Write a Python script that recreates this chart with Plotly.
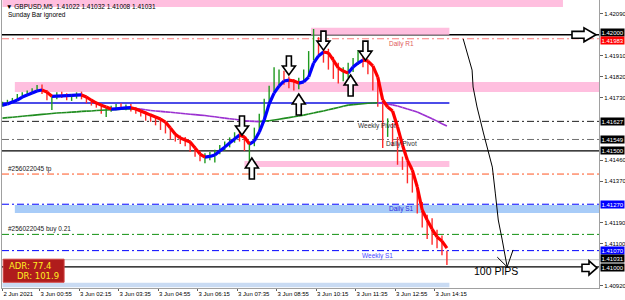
import plotly.graph_objects as go
import pandas as pd

# ---------------- data ----------------
symbol_title = "\u25bc GBPUSD,M5  1.41022 1.41032 1.41008 1.41031"
subtitle = "Sunday Bar ignored"

bar_start = "2021-06-02 23:40"
opens = [1.41700, 1.41706, 1.41716, 1.41722, 1.41738, 1.41745, 1.41752, 1.41764, 1.41772, 1.41750,
         1.41728, 1.41735, 1.41745, 1.41738, 1.41730, 1.41735, 1.41744, 1.41726, 1.41712, 1.41700,
         1.41692, 1.41672, 1.41680, 1.41688, 1.41690, 1.41683, 1.41694, 1.41676, 1.41666, 1.41656,
         1.41646, 1.41638, 1.41628, 1.41605, 1.41585, 1.41562, 1.41550, 1.41545, 1.41530, 1.41505,
         1.41488, 1.41470, 1.41478, 1.41488, 1.41500, 1.41518, 1.41532, 1.41550, 1.41570, 1.41552,
         1.41515, 1.41530, 1.41590, 1.41650, 1.41715, 1.41765, 1.41800, 1.41815, 1.41798, 1.41790,
         1.41785, 1.41805, 1.41840, 1.41905, 1.41940, 1.41925, 1.41900, 1.41870, 1.41840, 1.41830,
         1.41845, 1.41860, 1.41885, 1.41895, 1.41875, 1.41840, 1.41780, 1.41700, 1.41580, 1.41600,
         1.41540, 1.41460, 1.41430, 1.41380, 1.41340, 1.41260, 1.41190, 1.41180, 1.41130, 1.41110,
         1.41060]
highs = [1.41712, 1.41720, 1.41728, 1.41745, 1.41752, 1.41760, 1.41770, 1.41784, 1.41786, 1.41762,
         1.41740, 1.41752, 1.41755, 1.41748, 1.41744, 1.41752, 1.41755, 1.41735, 1.41722, 1.41712,
         1.41704, 1.41690, 1.41694, 1.41702, 1.41705, 1.41700, 1.41702, 1.41688, 1.41680, 1.41670,
         1.41660, 1.41650, 1.41640, 1.41618, 1.41598, 1.41578, 1.41566, 1.41560, 1.41545, 1.41520,
         1.41500, 1.41490, 1.41495, 1.41505, 1.41525, 1.41540, 1.41558, 1.41580, 1.41595, 1.41565,
         1.41540, 1.41600, 1.41660, 1.41725, 1.41780, 1.41860, 1.41850, 1.41845, 1.41820, 1.41810,
         1.41815, 1.41850, 1.41930, 1.42025, 1.41990, 1.41975, 1.41940, 1.41905, 1.41880, 1.41860,
         1.41880, 1.41900, 1.41935, 1.41915, 1.41895, 1.41860, 1.41800, 1.41710, 1.41640, 1.41620,
         1.41560, 1.41475, 1.41450, 1.41400, 1.41350, 1.41280, 1.41225, 1.41210, 1.41160, 1.41135,
         1.41070]
lows = [1.41690, 1.41700, 1.41708, 1.41715, 1.41728, 1.41735, 1.41744, 1.41755, 1.41745, 1.41718,
        1.41676, 1.41722, 1.41728, 1.41718, 1.41715, 1.41725, 1.41722, 1.41705, 1.41695, 1.41686,
        1.41660, 1.41646, 1.41668, 1.41675, 1.41678, 1.41675, 1.41670, 1.41660, 1.41648, 1.41630,
        1.41625, 1.41610, 1.41590, 1.41575, 1.41550, 1.41540, 1.41530, 1.41520, 1.41495, 1.41475,
        1.41455, 1.41447, 1.41460, 1.41450, 1.41485, 1.41500, 1.41515, 1.41535, 1.41540, 1.41500,
        1.41439, 1.41520, 1.41580, 1.41640, 1.41700, 1.41755, 1.41775, 1.41785, 1.41770, 1.41760,
        1.41765, 1.41795, 1.41830, 1.41890, 1.41910, 1.41880, 1.41850, 1.41810, 1.41790, 1.41800,
        1.41815, 1.41840, 1.41870, 1.41860, 1.41830, 1.41760, 1.41690, 1.41512, 1.41560, 1.41520,
        1.41440, 1.41418, 1.41360, 1.41320, 1.41230, 1.41170, 1.41120, 1.41095, 1.41080, 1.41050,
        1.41008]
closes = [1.41706, 1.41716, 1.41722, 1.41738, 1.41745, 1.41752, 1.41764, 1.41772, 1.41750, 1.41728,
          1.41735, 1.41745, 1.41738, 1.41730, 1.41735, 1.41744, 1.41726, 1.41712, 1.41700, 1.41692,
          1.41672, 1.41680, 1.41688, 1.41690, 1.41683, 1.41694, 1.41676, 1.41666, 1.41656, 1.41646,
          1.41638, 1.41628, 1.41605, 1.41585, 1.41562, 1.41550, 1.41545, 1.41530, 1.41505, 1.41488,
          1.41470, 1.41478, 1.41488, 1.41500, 1.41518, 1.41532, 1.41550, 1.41570, 1.41552, 1.41515,
          1.41530, 1.41590, 1.41650, 1.41715, 1.41765, 1.41800, 1.41815, 1.41798, 1.41790, 1.41785,
          1.41805, 1.41840, 1.41905, 1.41940, 1.41925, 1.41900, 1.41870, 1.41840, 1.41830, 1.41845,
          1.41860, 1.41885, 1.41895, 1.41875, 1.41840, 1.41780, 1.41700, 1.41580, 1.41600, 1.41540,
          1.41460, 1.41430, 1.41380, 1.41340, 1.41260, 1.41190, 1.41180, 1.41130, 1.41110, 1.41060,
          1.41031]
fast_ma = [1.41697, 1.41702, 1.41710, 1.41719, 1.41732, 1.41741, 1.41749, 1.41758, 1.41762, 1.41753,
           1.41735, 1.41736, 1.41737, 1.41738, 1.41739, 1.41740, 1.41741, 1.41732, 1.41718, 1.41706,
           1.41697, 1.41689, 1.41680, 1.41681, 1.41683, 1.41685, 1.41686, 1.41680, 1.41672, 1.41663,
           1.41654, 1.41646, 1.41637, 1.41624, 1.41598, 1.41572, 1.41555, 1.41547, 1.41538, 1.41512,
           1.41486, 1.41473, 1.41476, 1.41482, 1.41499, 1.41516, 1.41534, 1.41551, 1.41568, 1.41560,
           1.41529, 1.41542, 1.41581, 1.41633, 1.41702, 1.41749, 1.41779, 1.41801, 1.41805, 1.41801,
           1.41792, 1.41797, 1.41818, 1.41878, 1.41909, 1.41926, 1.41922, 1.41891, 1.41857, 1.41844,
           1.41835, 1.41861, 1.41878, 1.41891, 1.41887, 1.41866, 1.41818, 1.41719, 1.41689, 1.41672,
           1.41603, 1.41525, 1.41460, 1.41417, 1.41344, 1.41245, 1.41202, 1.41163, 1.41129, 1.41111,
           1.41081]
slow_ma = [1.41641, 1.41643, 1.41645, 1.41647, 1.41649, 1.41651, 1.41653, 1.41655, 1.41657, 1.41659,
           1.41661, 1.41663, 1.41664, 1.41665, 1.41667, 1.41668, 1.41670, 1.41671, 1.41672, 1.41674,
           1.41675, 1.41676, 1.41677, 1.41678, 1.41679, 1.41680, 1.41681, 1.41682, 1.41680, 1.41677,
           1.41674, 1.41672, 1.41670, 1.41668, 1.41666, 1.41664, 1.41662, 1.41660, 1.41658, 1.41656,
           1.41654, 1.41652, 1.41649, 1.41647, 1.41644, 1.41641, 1.41638, 1.41636, 1.41633, 1.41630,
           1.41628, 1.41627, 1.41626, 1.41628, 1.41630, 1.41633, 1.41636, 1.41640, 1.41643, 1.41647,
           1.41650, 1.41654, 1.41659, 1.41663, 1.41668, 1.41672, 1.41677, 1.41682, 1.41687, 1.41692,
           1.41697, 1.41699, 1.41701, 1.41703, 1.41705, 1.41706, 1.41707, 1.41705, 1.41702, 1.41698,
           1.41693, 1.41687, 1.41680, 1.41674, 1.41667, 1.41658, 1.41648, 1.41638, 1.41628, 1.41617,
           1.41607]

tick_times = ["2021-06-02 23:40", "2021-06-03 00:55", "2021-06-03 02:15", "2021-06-03 03:35",
              "2021-06-03 04:55", "2021-06-03 06:15", "2021-06-03 07:35", "2021-06-03 08:55",
              "2021-06-03 10:15", "2021-06-03 11:35", "2021-06-03 12:55", "2021-06-03 14:15"]
tick_labels = ["2 Jun 2021", "3 Jun 00:55", "3 Jun 02:15", "3 Jun 03:35", "3 Jun 04:55",
               "3 Jun 06:15", "3 Jun 07:35", "3 Jun 08:55", "3 Jun 10:15", "3 Jun 11:35",
               "3 Jun 12:55", "3 Jun 14:15"]
price_ticks = [1.42090, 1.41910, 1.41820, 1.41730, 1.41460, 1.41370, 1.41190, 1.41100, 1.40920]

# pivot / order levels (dash-dot lines)
level_names = ["Daily R1", "Weekly Pivot", "Daily Pivot", "#256022045 tp",
               "Daily S1", "#256022045 buy 0.21", "Weekly S1"]
level_prices = [1.41983, 1.41627, 1.41549, 1.41400, 1.41270, 1.41140, 1.41070]
round_levels = [1.42000, 1.41500, 1.41000]
trend_level = 1.41706
trend_end = "2021-06-03 14:45"
bid_price = 1.41031

# rectangles (supply / demand zones)
zone_starts = ["2021-06-02 23:40", "2021-06-03 10:05", "2021-06-03 00:05", "2021-06-03 07:50",
               "2021-06-03 00:05"]
zone_ends = ["2021-06-03 18:35", "2021-06-03 14:45", "2021-06-03 20:30", "2021-06-03 14:45",
             "2021-06-03 20:30"]
zone_lows = [1.42120, 1.42000, 1.41754, 1.41430, 1.41232]
zone_highs = [1.42170, 1.42030, 1.41797, 1.41456, 1.41267]
zone_kind = ["pink", "pink", "pink", "pink", "blue"]

# signal arrows
down_times = ["2021-06-03 07:45", "2021-06-03 09:20", "2021-06-03 10:30", "2021-06-03 11:55"]
down_prices = [1.41568, 1.41827, 1.41934, 1.41891]
up_times = ["2021-06-03 08:05", "2021-06-03 09:40", "2021-06-03 11:25"]
up_prices = [1.41469, 1.41745, 1.41827]

# hand drawn "100 PIPS" projection
curve_times = ["2021-06-03 15:13", "2021-06-03 15:31", "2021-06-03 15:33", "2021-06-03 15:41",
               "2021-06-03 15:54", "2021-06-03 16:04", "2021-06-03 16:12", "2021-06-03 16:18",
               "2021-06-03 16:24", "2021-06-03 16:32", "2021-06-03 16:42"]
curve_prices = [1.41982, 1.41848, 1.41775, 1.41689, 1.41577, 1.41495, 1.41430, 1.41318,
                1.41202, 1.41116, 1.41000]
head_times = ["2021-06-03 16:22", "2021-06-03 16:42", "2021-06-03 16:54"]
head_prices = [1.41042, 1.41000, 1.41073]
pips_label = "100 PIPS"
pips_time = "2021-06-03 16:20"
pips_price = 1.40982

adr_value = 77.4
dr_value = 101.9

x_range = ["2021-06-02 23:39", "2021-06-03 19:48"]
y_range = [1.40909, 1.42150]

# ---------------- figure ----------------
times = pd.date_range(bar_start, periods=len(closes), freq="10min")
FONT = "Liberation Sans"
fig = go.Figure()

fig.add_trace(go.Ohlc(x=times, open=opens, high=highs, low=lows, close=closes,
                      increasing=dict(line=dict(color="#1f9a1f", width=1.4)),
                      decreasing=dict(line=dict(color="#ff2a2a", width=1.4)),
                      tickwidth=0, hoverinfo="skip", showlegend=False))


def two_colour(values, up_col, dn_col, width):
    ux, uy, dx, dy = [], [], [], []
    for k in range(len(values) - 1):
        if values[k + 1] > values[k]:
            ux += [times[k], times[k + 1], None]
            uy += [values[k], values[k + 1], None]
        else:
            dx += [times[k], times[k + 1], None]
            dy += [values[k], values[k + 1], None]
    for xs, ys, col in ((ux, uy, up_col), (dx, dy, dn_col)):
        fig.add_trace(go.Scatter(x=xs, y=ys, mode="lines", connectgaps=False,
                                 line=dict(color=col, width=width), hoverinfo="skip",
                                 showlegend=False))


two_colour(slow_ma, "#1e8c1e", "#9a2fd0", 1.6)
two_colour(fast_ma, "#0000ff", "#ff0000", 3.2)

fig.add_trace(go.Scatter(x=curve_times, y=curve_prices, mode="lines",
                         line=dict(color="black", width=1), hoverinfo="skip", showlegend=False))
fig.add_trace(go.Scatter(x=head_times, y=head_prices, mode="lines",
                         line=dict(color="black", width=1), hoverinfo="skip", showlegend=False))

shapes = []
zone_colour = {"pink": "#ffbfdf", "blue": "#a8ccf8"}
for s, e, lo, hi, kind in zip(zone_starts, zone_ends, zone_lows, zone_highs, zone_kind):
    shapes.append(dict(type="rect", xref="x", yref="y", x0=s, x1=e, y0=lo, y1=hi,
                       fillcolor=zone_colour[kind], line=dict(width=0), layer="below"))
# bottom light bar
shapes.append(dict(type="rect", xref="x", yref="paper", x0=bar_start, x1=trend_end, y0=0.003, y1=0.018,
                   fillcolor="#c9dbf3", line=dict(width=0), layer="below"))

level_style = {"Daily R1": "#ff7b7b", "Weekly Pivot": "#202020", "Daily Pivot": "#707070",
               "#256022045 tp": "#ff5522", "Daily S1": "#0000ff",
               "#256022045 buy 0.21": "#109010", "Weekly S1": "#0000ff"}
for name, p in zip(level_names, level_prices):
    shapes.append(dict(type="line", xref="paper", yref="y", x0=0, x1=1, y0=p, y1=p,
                       line=dict(color=level_style[name], width=1, dash="7px,3px,2px,3px"),
                       layer="below"))
for p in round_levels:
    shapes.append(dict(type="line", xref="paper", yref="y", x0=0, x1=1, y0=p, y1=p,
                       line=dict(color="black", width=1.4), layer="below"))
shapes.append(dict(type="line", xref="x", yref="y", x0=x_range[0], x1=trend_end,
                   y0=trend_level, y1=trend_level, line=dict(color="#1010e0", width=1.4),
                   layer="below"))
shapes.append(dict(type="line", xref="paper", yref="y", x0=0, x1=1, y0=bid_price, y1=bid_price,
                   line=dict(color="#c0c0c0", width=1), layer="below"))

down_path = "M 0,0 L -6.5,9 L -2.5,9 L -2.5,19 L 2.5,19 L 2.5,9 L 6.5,9 Z"
up_path = "M 0,0 L -6.5,-10 L -2.5,-10 L -2.5,-21 L 2.5,-21 L 2.5,-10 L 6.5,-10 Z"
for t, p in zip(down_times, down_prices):
    shapes.append(dict(type="path", xref="x", yref="y", xsizemode="pixel", ysizemode="pixel",
                       xanchor=t, yanchor=p, path=down_path, fillcolor="white",
                       line=dict(color="black", width=1.6), layer="above"))
for t, p in zip(up_times, up_prices):
    shapes.append(dict(type="path", xref="x", yref="y", xsizemode="pixel", ysizemode="pixel",
                       xanchor=t, yanchor=p, path=up_path, fillcolor="white",
                       line=dict(color="black", width=1.6), layer="above"))
# right-edge arrows on round levels
shapes.append(dict(type="path", xref="paper", yref="y", xsizemode="pixel", ysizemode="pixel",
                   xanchor=1, yanchor=round_levels[0],
                   path="M -3,0 L -15,7 L -15,3.4 L -27,3.4 L -27,-3.4 L -15,-3.4 L -15,-7 Z",
                   fillcolor="white", line=dict(color="black", width=1.6), layer="above"))
shapes.append(dict(type="path", xref="paper", yref="y", xsizemode="pixel", ysizemode="pixel",
                   xanchor=1, yanchor=round_levels[2],
                   path="M -2,-1 L -10,6 L -10,2.6 L -17,2.6 L -17,-4.6 L -10,-4.6 L -10,-8 Z",
                   fillcolor="white", line=dict(color="black", width=1.6), layer="above"))
# ADR panel
shapes.append(dict(type="rect", xref="paper", yref="paper", x0=0.002, x1=0.104, y0=0.02, y1=0.1,
                   fillcolor="#b01c1c", line=dict(color="#d04040", width=1), layer="above"))

ann = []
ann.append(dict(text=symbol_title, xref="paper", yref="paper", x=0.004, y=0.979, xanchor="left",
                yanchor="middle", showarrow=False, font=dict(family=FONT, size=6.5, color="black")))
ann.append(dict(text=subtitle, xref="paper", yref="paper", x=0.007, y=0.948, xanchor="left",
                yanchor="middle", showarrow=False, font=dict(family=FONT, size=6.5, color="black")))

label_pos = {"Daily R1": (0.6466, "top", "#e05a5a"), "Weekly Pivot": (0.5946, "top", "#303030"),
             "Daily Pivot": (0.6415, "top", "#303030"), "#256022045 tp": (0.0084, "bottom", "#202020"),
             "Daily S1": (0.6466, "top", "#2a2ae0"), "#256022045 buy 0.21": (0.0084, "bottom", "#202020"),
             "Weekly S1": (0.6013, "top", "#4a4aff")}
for name, p in zip(level_names, level_prices):
    xp, ya, col = label_pos[name]
    ann.append(dict(text=name, xref="paper", yref="y", x=xp, y=p, xanchor="left", yanchor=ya,
                    showarrow=False, font=dict(family=FONT, size=6.5, color=col), borderpad=0))

boxed = [(round_levels[0], "black", 2), (level_prices[0], "#ff0000", -2), (level_prices[1], "black", 0),
         (level_prices[2], "black", 0), (round_levels[1], "black", 0), (level_prices[4], "#0000ff", 0),
         (level_prices[6], "#0000ff", 0), (bid_price, "black", 1), (round_levels[2], "black", -1)]
for p, col, sh in boxed:
    ann.append(dict(text=f"{p:.5f}", xref="paper", yref="y", x=1, y=p, xanchor="left",
                    yanchor="middle", xshift=1, yshift=sh, showarrow=False, bgcolor=col,
                    borderpad=0.5, font=dict(family=FONT, size=6, color="white")))

ann.append(dict(text=pips_label, xref="x", yref="y", x=pips_time, y=pips_price, showarrow=False,
                xanchor="center", yanchor="middle", font=dict(family=FONT, size=10.5, color="black")))
ann.append(dict(text=f"ADR: {adr_value}", xref="paper", yref="paper", x=0.009, y=0.078,
                xanchor="left", yanchor="middle", showarrow=False,
                font=dict(family="DejaVu Sans", size=8.5, color="#ffee22")))
ann.append(dict(text=f"DR: {dr_value}", xref="paper", yref="paper", x=0.022, y=0.042,
                xanchor="left", yanchor="middle", showarrow=False,
                font=dict(family="DejaVu Sans", size=8.5, color="#ffee22")))

fig.update_layout(
    width=625, height=300, margin=dict(l=2, r=26, t=0, b=12, autoexpand=False),
    paper_bgcolor="white", plot_bgcolor="white", showlegend=False,
    shapes=shapes, annotations=ann, hovermode=False,
    xaxis=dict(type="date", range=x_range, rangeslider=dict(visible=False), showgrid=False,
               zeroline=False, tickvals=tick_times, ticktext=tick_labels, tickangle=0,
               automargin=False,
               ticklabelposition="outside right", ticks="outside", ticklen=2,
               tickcolor="#606060", tickfont=dict(family=FONT, size=6, color="black"),
               showline=True, linecolor="#a0a0a0", linewidth=1),
    yaxis=dict(range=y_range, side="right", showgrid=False, zeroline=False, automargin=False,
               tickvals=price_ticks, ticktext=[f"{v:.5f}" for v in price_ticks],
               ticks="outside", ticklen=3, tickcolor="#606060",
               tickfont=dict(family=FONT, size=6, color="black"),
               showline=True, linecolor="#a0a0a0", linewidth=1, mirror=True),
)

fig.write_html("out.html")
